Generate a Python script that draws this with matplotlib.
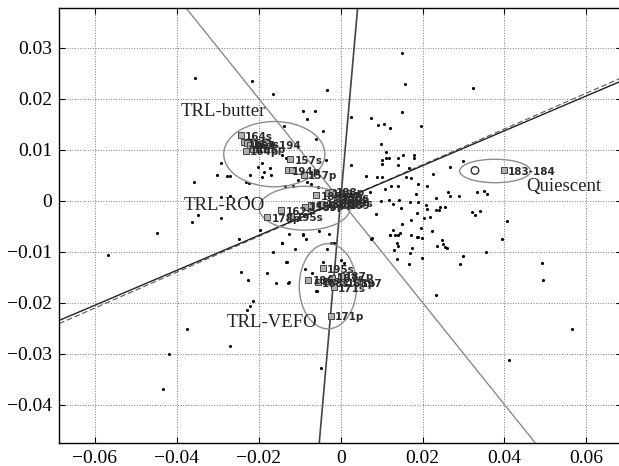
import matplotlib
matplotlib.use("Agg")
import matplotlib.pyplot as plt
from matplotlib.patches import Ellipse
from matplotlib.ticker import FuncFormatter

# scattered background points (unlabelled)
dot_x = [-0.0355, -0.0216, -0.0164, -0.0033, -0.0091, -0.0063, -0.0081, -0.0042, -0.0138, -0.0059,
         -0.0036, -0.0291, -0.0301, -0.0277, -0.0269, -0.0358, -0.0222, -0.0202, -0.0192, -0.0186,
         -0.0173, -0.0169, -0.0192, -0.0143, -0.0134, -0.0129, -0.0230, -0.0224, -0.0137, -0.0116,
         -0.0104, -0.0083, -0.0072, -0.0055, -0.0291, -0.0270, -0.0230, -0.0349, -0.0364, -0.0291,
         -0.0449, -0.0567, -0.0249, -0.0198, -0.0165, -0.0143, -0.0126, -0.0092, -0.0084, -0.0112,
         -0.0052, -0.0029, -0.0023, -0.0015, -0.0033, -0.0134, -0.0086, -0.0243, -0.0226, -0.0181,
         -0.0159, -0.0129, -0.0059, -0.0214, -0.0221, -0.0228, -0.0376, -0.0269, -0.0419, -0.0434,
         -0.0049, -0.0131, -0.0091, -0.0042, 0.0007, -0.0070, -0.0058, -0.0127, -0.0144,
         0.0151, 0.0157, 0.0324, 0.0149, 0.0026, 0.0074, 0.0092, 0.0105, 0.0120, 0.0197,
         0.0098, 0.0110, 0.0101, 0.0102, 0.0110, 0.0119, 0.0140, 0.0139, 0.0153, 0.0178,
         0.0180, 0.0167, 0.0159, 0.0173, 0.0026, 0.0061, 0.0090, 0.0101, 0.0226, 0.0267,
         0.0298, 0.0123, 0.0141, 0.0109, 0.0072, 0.0190, 0.0184, 0.0210, 0.0118, 0.0129,
         0.0143, 0.0148, 0.0170, 0.0188, 0.0098, 0.0232, 0.0209, 0.0212, 0.0203, 0.0219,
         0.0232, 0.0240, 0.0243, 0.0255, 0.0263, 0.0267, 0.0289, 0.0333, 0.0350, 0.0358,
         0.0322, 0.0329, 0.0341, 0.0406, 0.0395, 0.0356, 0.0300, 0.0292, 0.0492, 0.0494,
         0.0564, 0.0411, 0.0232, 0.0086, 0.0073, 0.0121, 0.0129, 0.0139, 0.0150, 0.0171,
         0.0187, 0.0171, 0.0186, 0.0196, 0.0199, 0.0224, 0.0235, 0.0247, 0.0250, 0.0255,
         0.0259, 0.0131, 0.0137, 0.0170, 0.0167, 0.0199, 0.0002, 0.0076, 0.0121, 0.0133,
         0.0145, 0.0137, 0.0141, 0.0174, 0.0190]
dot_y = [0.0241, 0.0235, 0.0208, 0.0216, 0.0175, 0.0176, 0.0159, 0.0137, 0.0146, 0.0120,
         0.0080, 0.0073, 0.0051, 0.0048, 0.0048, 0.0037, 0.0050, 0.0065, 0.0074, 0.0056,
         0.0063, 0.0050, 0.0046, 0.0089, 0.0084, 0.0080, 0.0036, 0.0035, 0.0028, 0.0028,
         0.0040, 0.0037, 0.0032, 0.0027, 0.0007, 0.0008, 0.0007, -0.0029, -0.0042, -0.0035,
         -0.0063, -0.0107, -0.0076, -0.0058, -0.0101, -0.0083, -0.0065, -0.0065, -0.0075, -0.0095,
         -0.0060, -0.0065, -0.0083, -0.0083, -0.0095, -0.0121, -0.0135, -0.0140, -0.0156, -0.0142,
         -0.0161, -0.0161, -0.0177, -0.0197, -0.0206, -0.0214, -0.0252, -0.0286, -0.0301, -0.0369,
         -0.0328, -0.0120, -0.0067, -0.0120, -0.0123, -0.0142, -0.0178, -0.0159, -0.0084,
         0.0290, 0.0228, 0.0220, 0.0173, 0.0164, 0.0161, 0.0148, 0.0150, 0.0143, 0.0146,
         0.0111, 0.0095, 0.0071, 0.0080, 0.0084, 0.0084, 0.0084, 0.0069, 0.0089, 0.0089,
         0.0084, 0.0064, 0.0046, 0.0044, 0.0069, 0.0048, 0.0046, 0.0046, 0.0052, 0.0066,
         0.0077, 0.0029, 0.0029, 0.0022, 0.0017, 0.0032, 0.0012, 0.0028, 0.0001, -0.0007,
         0.0002, -0.0014, -0.0003, -0.0003, -0.0001, 0.0005, -0.0009, -0.0016, -0.0034, -0.0032,
         -0.0019, -0.0019, -0.0012, -0.0012, 0.0016, 0.0009, 0.0008, 0.0017, 0.0018, 0.0013,
         -0.0022, -0.0029, -0.0021, -0.0040, -0.0076, -0.0100, -0.0108, -0.0124, -0.0123, -0.0155,
         -0.0252, -0.0312, -0.0186, -0.0027, -0.0076, -0.0067, -0.0057, -0.0067, -0.0045, -0.0039,
         -0.0025, -0.0067, -0.0071, -0.0054, -0.0073, -0.0060, -0.0090, -0.0078, -0.0086, -0.0092,
         -0.0094, -0.0097, -0.0114, -0.0103, -0.0125, -0.0112, -0.0117, -0.0074, -0.0067, -0.0067,
         -0.0064, -0.0084, -0.0090, -0.0093, -0.0071]

# labelled samples (square markers)
sample_x = [-0.0244, -0.0237, -0.0228, -0.0222, -0.0232, -0.0215, -0.0123, -0.0129, -0.0118, -0.0090,
            -0.0179, -0.0145, -0.0120, -0.0088, -0.0072, -0.0059, -0.0047, -0.0031, -0.0019, -0.0007,
            -0.0022, -0.0010, 0.0003, 0.0010,
            -0.0043, -0.0079, -0.0055, -0.0035, -0.0020, 0.0000, -0.0016, 0.0005, 0.0040, -0.0024,
            0.0398]
sample_y = [0.0128, 0.0114, 0.0112, 0.0109, 0.0098, 0.0101, 0.0081, 0.0059, 0.0060, 0.0050,
            -0.0033, -0.0019, -0.0031, -0.0012, -0.0009, 0.0010, -0.0006, 0.0014, -0.0006, 0.0007,
            0.0017, 0.0003, -0.0004, -0.0008,
            -0.01325, -0.01555, -0.0160, -0.0157, -0.0152, -0.0148, -0.0170, -0.0160, -0.0160, -0.0226,
            0.0059]
sample_labels = ["164s", "165s", "163s", "163-194", "164p", "165p", "157s", "194p", "", "157p",
                 "178p", "162s", "195s", "158s", "158p", "185s", "186p", "188s", "186s", "190s",
                 "188p", "190p", "189s", "189",
                 "195s", "186s", "168s", "", "187s", "187p", "171s", "168p", "197", "171p",
                 "183-184"]

# quiescent reference (open circle)
quiescent_x = [0.0328]
quiescent_y = [0.0059]

# group ellipses: centre x, centre y, width, height
ellipse_cx = [-0.0162, -0.0088, -0.0031, 0.0377]
ellipse_cy = [0.0091, -0.0015, -0.0168, 0.0058]
ellipse_w = [0.0247, 0.0222, 0.0140, 0.0173]
ellipse_h = [0.0128, 0.0086, 0.0167, 0.0046]

# group names and where they sit
group_names = ["TRL-butter", "TRL-ROO", "TRL-VEFO", "Quiescent"]
group_x = [-0.0287, -0.0285, -0.0168, 0.0544]
group_y = [0.0174, -0.0010, -0.0240, 0.0027]

# lines through the origin (slopes)
axis_line_slope = 0.342      # solid
axis_line2_slope = 0.351     # dashed
diag_slope = -1.0            # grey
steep_slope = 9.1            # near vertical

x_ticks = [-0.06, -0.04, -0.02, 0, 0.02, 0.04, 0.06]
y_ticks = [-0.04, -0.03, -0.02, -0.01, 0, 0.01, 0.02, 0.03]

serif = "Liberation Serif"

fig = plt.figure(figsize=(6.19, 4.66), dpi=100)
ax = fig.add_axes([0.0958, 0.0487, 0.909, 0.9335])
ax.set_xlim(-0.0687, 0.0687)
ax.set_ylim(-0.0476, 0.0377)

ax.grid(True, linestyle=":", color="#7a7a7a", linewidth=0.7)
ax.set_axisbelow(True)

ax.axline((0, 0), slope=axis_line2_slope, color="#555555", linewidth=0.8, linestyle=(0, (5, 2.5)))
ax.axline((0, 0), slope=axis_line_slope, color="#222222", linewidth=1.0)
ax.axline((0, 0), slope=diag_slope, color="#8a8a8a", linewidth=1.0)
ax.axline((0, 0), slope=steep_slope, color="#444444", linewidth=1.2)

ax.scatter(dot_x, dot_y, s=5, color="black", linewidths=0, zorder=3)

for cx, cy, w, h in zip(ellipse_cx, ellipse_cy, ellipse_w, ellipse_h):
    ax.add_patch(Ellipse((cx, cy), w, h, fill=False, edgecolor="#8c8c8c", linewidth=1.0, zorder=4))

ax.scatter(sample_x, sample_y, marker="s", s=14, facecolor="#b0b0b0", edgecolor="#444444",
           linewidths=0.7, zorder=5)
for x, y, t in zip(sample_x, sample_y, sample_labels):
    ax.annotate(t, (x, y), xytext=(3, -1), textcoords="offset points", fontsize=7.5,
                fontweight="bold", color="#2a2a2a", va="center", ha="left", zorder=6)

ax.scatter(quiescent_x, quiescent_y, marker="o", s=30, facecolor="none", edgecolor="#333333",
           linewidths=1.0, zorder=5)

for name, x, y in zip(group_names, group_x, group_y):
    ax.text(x, y, name, fontsize=13.5, family=serif, ha="center", va="center", color="#222222", zorder=7)

ax.set_xticks(x_ticks)
ax.set_yticks(y_ticks)
fmt = FuncFormatter(lambda v, p: "0" if abs(v) < 1e-9 else f"{v:.2f}".replace("-", "\u2212"))
ax.xaxis.set_major_formatter(fmt)
ax.yaxis.set_major_formatter(fmt)
ax.tick_params(direction="in", top=True, right=True, length=4, width=0.8,
               labelsize=14, pad=5)
for lab in ax.get_xticklabels() + ax.get_yticklabels():
    lab.set_family(serif)
for sp in ax.spines.values():
    sp.set_linewidth(1.0)

fig.savefig("out.png", dpi=100)
